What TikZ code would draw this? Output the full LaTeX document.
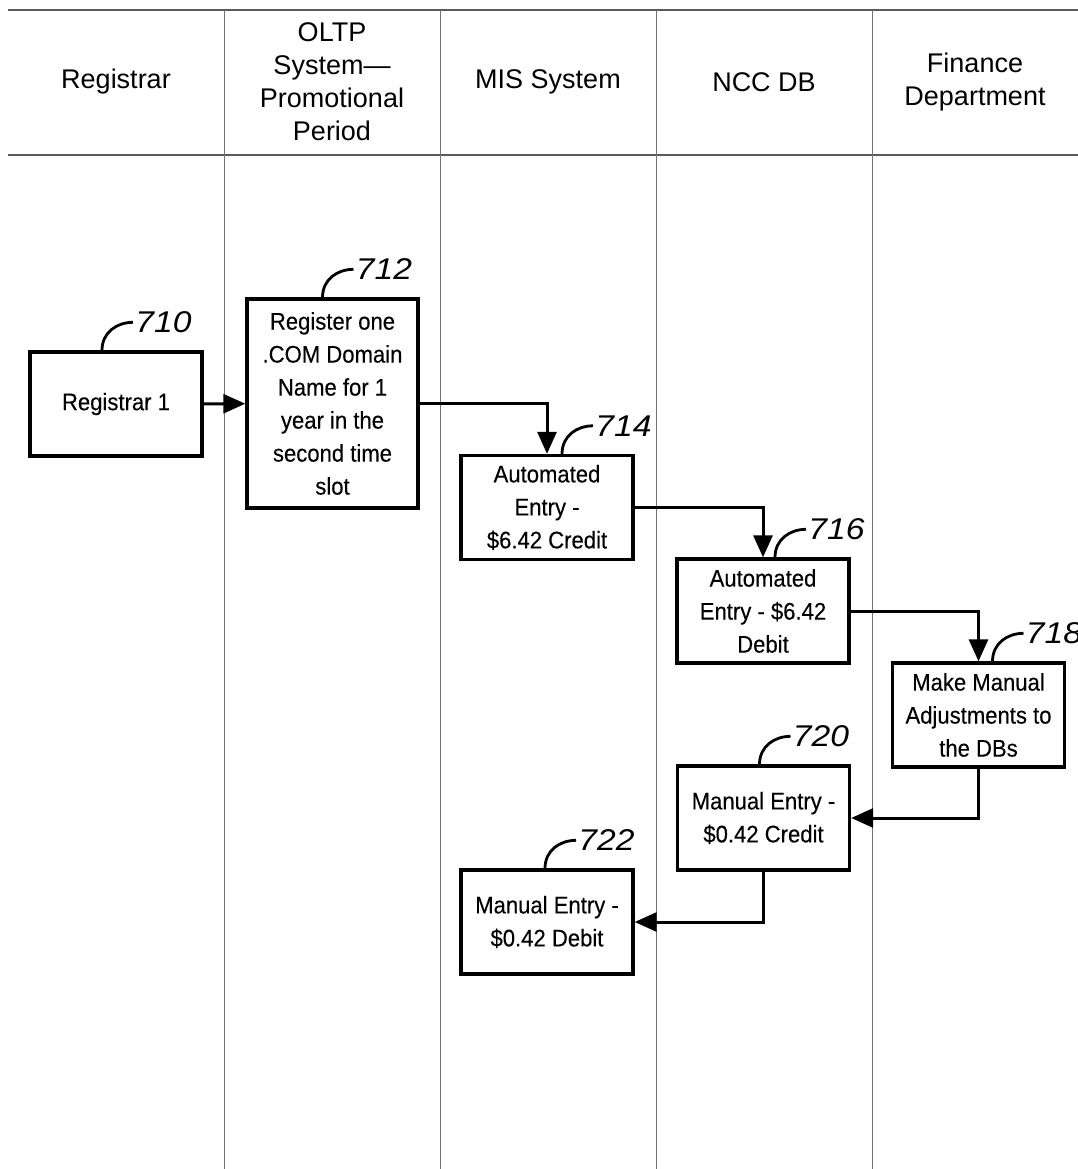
\documentclass[tikz,border=0pt]{standalone}
\usepackage{fontspec}
\setmainfont{Liberation Sans}[FakeStretch=0.92, FakeBold=0.2]
\newfontfamily\lanefont{Liberation Sans}
\newfontfamily\numfont{Liberation Sans}[FakeStretch=1.12]
\usetikzlibrary{arrows.meta}

\begin{document}
\begin{tikzpicture}[
            x=1pt, y=-1pt,
            every node/.style={font=\fontsize{24}{33}\selectfont},
            lane/.style={align=center, font=\lanefont\fontsize{27}{33}\selectfont},
            stepbox/.style={draw, line width=3.4pt, align=center, inner sep=0pt,
                minimum width=172pt, minimum height=104pt},
            flow/.style={line width=3pt, -{Triangle[length=22pt,width=19pt]}},
            leader/.style={line width=2.8pt},
            refnum/.style={anchor=west, inner sep=1pt,
                font=\numfont\itshape\fontsize{30}{30}\selectfont}]
        \useasboundingbox (0,0) rectangle (1078,1169);
        % swim lanes
        \draw[black!65, line width=1.4pt] (8,10) -- (1078,10) (8,155) -- (1078,155);
        \foreach \x in {224,440,656,872}
            \draw[black!55, line width=0.9pt] (\x,10) -- (\x,1169);
        \node[lane] (hreg) at (116,82) {Registrar};
        \node[lane] (holtp) at (332,82) {OLTP\\System—\\Promotional\\Period};
        \node[lane] (hmis) at (548,82) {MIS System};
        \node[lane] (hncc) at (764,82) {NCC DB};
        \node[lane] (hfin) at (975,82) {Finance\\Department};
        % steps
        \node[stepbox] (n710) at (116,404) {Registrar 1};
        \node[stepbox, minimum width=171pt, minimum height=209pt] (n712) at (332.5,403.5)
            {Register one\\.COM Domain\\Name for 1\\year in the\\second time\\slot};
        \node[stepbox] (n714) at (547,507.5) {Automated\\Entry -\\\$6.42 Credit};
        \node[stepbox] (n716) at (763,611) {Automated\\Entry - \$6.42\\Debit};
        \node[stepbox] (n718) at (978.5,715) {Make Manual\\Adjustments to\\the DBs};
        \node[stepbox] (n720) at (763.5,818) {Manual Entry -\\\$0.42 Credit};
        \node[stepbox] (n722) at (547,922) {Manual Entry -\\\$0.42 Debit};
        % flow
        \draw[flow] (n710) -- (n712);
        \draw[flow] (n712.east) -| (n714.north);
        \draw[flow] (n714.east) -| (n716.north);
        \draw[flow] (n716.east) -| (n718.north);
        \draw[flow] (n718.south) |- (n720.east);
        \draw[flow] (n720.south) |- (n722.east);
        % reference numbers
        \foreach \num/\dx in {710/-14, 712/-10, 714/15, 716/12, 718/14, 720/-4, 722/-2}
            \draw[leader] ([xshift=\dx pt]n\num.north) .. controls +(0,-18) and +(-16,0) .. ++(31,-28)
                node[refnum] (r\num) {\num};
\end{tikzpicture}
\end{document}
